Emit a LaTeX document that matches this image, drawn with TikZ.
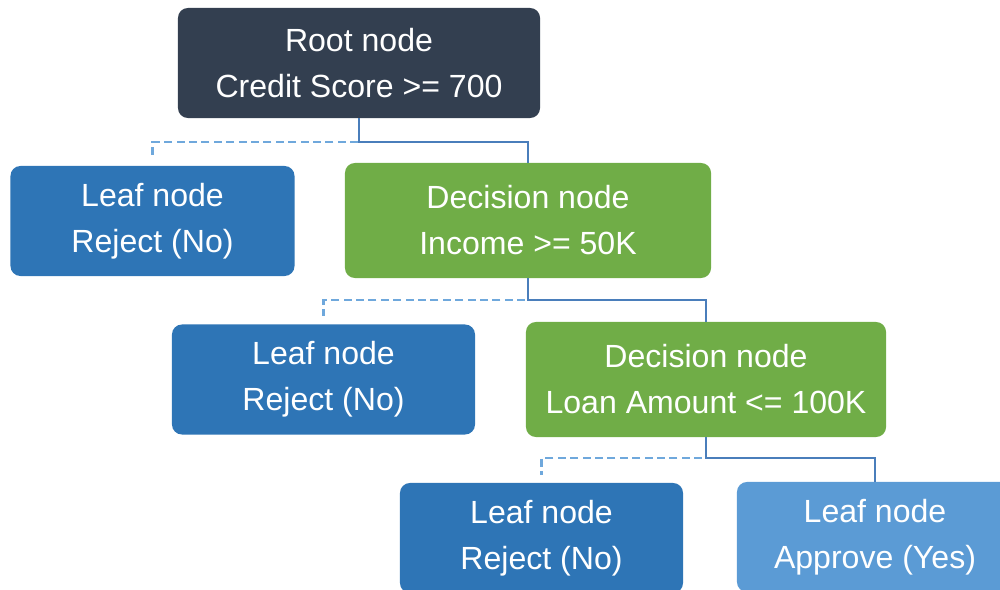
\documentclass[tikz,border=0pt]{standalone}
\usepackage{fontspec}
\setmainfont{Liberation Sans}
\usetikzlibrary{positioning}
\definecolor{rootcol}{HTML}{333F50}
\definecolor{leafcol}{HTML}{2E75B6}
\definecolor{yescol}{HTML}{5B9BD5}
\definecolor{deccol}{HTML}{70AD47}
\definecolor{yeslink}{HTML}{4A7EBB}
\definecolor{nolink}{HTML}{6FA8DC}

\begin{document}
\begin{tikzpicture}[x=0.025cm, y=-0.025cm,
  box/.style={rounded corners=0.25cm, inner sep=0pt, text=white, align=center,
    font=\fontsize{22.8}{32.7}\selectfont, minimum height=2.75cm},
  rootbox/.style={box, fill=rootcol, minimum width=9.05cm},
  leafbox/.style={box, fill=leafcol, minimum width=7.1cm},
  decbox/.style={box, fill=deccol, minimum height=2.875cm},
  yesline/.style={draw=yeslink, line width=1.7pt},
  noline/.style={draw=nolink, line width=1.6pt, dash pattern=on 0.2cm off 0.11cm, shorten >=0.2cm}]
  \useasboundingbox (0,0) rectangle (1000,590);
  \clip (0,0) rectangle (1000,590);

  %% Tree nodes
  \node[rootbox] (root) at (359,63) {Root node\\Credit Score >= 700};
  \node[leafbox] (leafa) at (152.5,221) {Leaf node\\Reject (No)};
  \node[decbox, minimum width=9.15cm] (deca) at (528,220.5) {Decision node\\Income >= 50K};
  \node[leafbox, minimum width=7.575cm] (leafb) at (323.5,379.5) {Leaf node\\Reject (No)};
  \node[decbox, minimum width=9cm] (decb) at (706,379.5) {Decision node\\Loan Amount <= 100K};
  \node[leafbox, minimum width=7.075cm] (leafc) at (541.5,538) {Leaf node\\Reject (No)};
  \node[leafbox, fill=yescol, minimum width=6.9cm] (leafd) at (875,537) {Leaf node\\Approve (Yes)};

  %% Branches: solid = yes, dashed = no
  \foreach \up/\no/\yes/\drop in {root/leafa/deca/24, deca/leafb/decb/22, decb/leafc/leafd/21}{
    \draw[noline] (\up.south) -- ++(0,\drop) -| (\no.north);
    \draw[yesline] (\up.south) -- ++(0,\drop) -| (\yes.north);
  }
\end{tikzpicture}
\end{document}
